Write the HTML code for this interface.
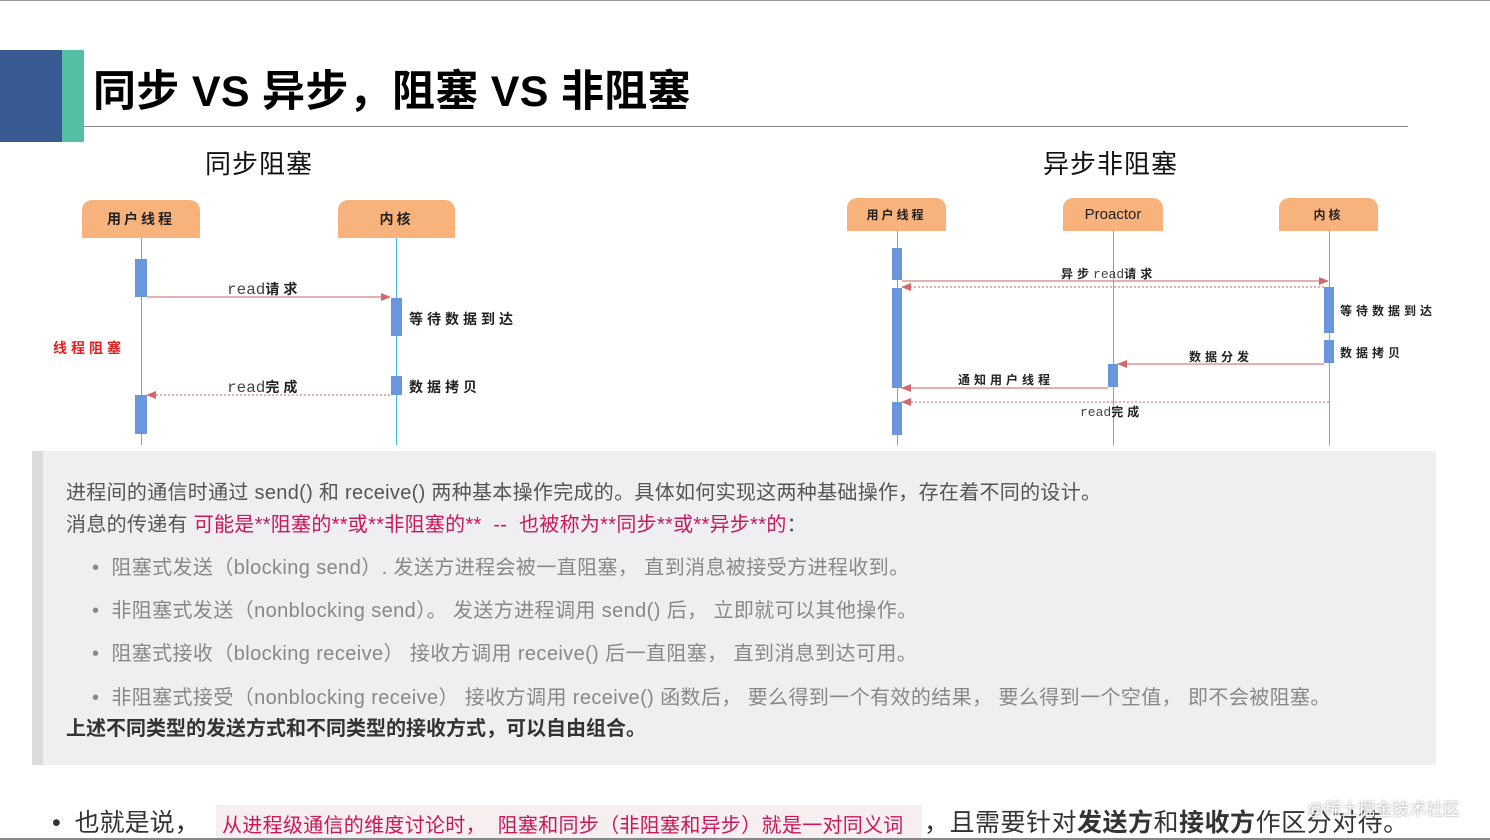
<!DOCTYPE html>
<html><head><meta charset="utf-8"><style>
body{margin:0;width:1490px;height:840px;background:#fff;position:relative;overflow:hidden;font-family:"Liberation Sans","Noto Sans CJK SC",sans-serif}
.a{position:absolute;white-space:nowrap}
.box{position:absolute;background:#f8b27c;border-radius:10px 10px 0 0;font-weight:bold;font-size:14px;display:flex;align-items:center;justify-content:center;color:#222;letter-spacing:3px}
.ll{position:absolute;width:1px;background:#3fbfe0}
.bar{position:absolute;background:#6a96dd}
.lb{position:absolute;white-space:nowrap;font-size:14px;font-weight:bold;color:#222;letter-spacing:4px}
.s{font-size:12px;letter-spacing:4px}
.m{font-family:"Liberation Mono",monospace;font-weight:normal;font-size:15px;color:#444;letter-spacing:0}
.t{font-size:20px;color:#555;letter-spacing:0.3px}
.g{font-size:20px;color:#888;letter-spacing:0.4px}
</style></head><body>
<div class="a" style="left:0;top:0;width:1490px;height:1px;background:#999"></div>
<div class="a" style="left:0;top:50px;width:62px;height:92px;background:#3a5a94"></div>
<div class="a" style="left:62px;top:50px;width:22px;height:92px;background:#55bfa6"></div>
<div class="a" style="left:84px;top:126px;width:1324px;height:1px;background:#888"></div>
<div class="a" style="left:93px;top:57px;font-size:43px;font-weight:bold;color:#000;letter-spacing:0.3px">同步 VS 异步，阻塞 VS 非阻塞</div>
<div class="a" style="left:205px;top:144px;font-size:26px;color:#111;letter-spacing:1px">同步阻塞</div>
<div class="a" style="left:1043px;top:144px;font-size:26px;color:#111;letter-spacing:1px">异步非阻塞</div>

<!-- sync diagram -->
<div class="box" style="left:82px;top:200px;width:118px;height:38px">用户线程</div>
<div class="box" style="left:338px;top:200px;width:117px;height:38px">内核</div>
<div class="ll" style="left:141px;top:238px;height:207px"></div>
<div class="ll" style="left:396px;top:238px;height:207px"></div>
<div class="bar" style="left:135px;top:259px;width:12px;height:38px"></div>
<div class="bar" style="left:135px;top:395px;width:12px;height:39px"></div>
<div class="bar" style="left:391px;top:298px;width:11px;height:38px"></div>
<div class="bar" style="left:391px;top:376px;width:11px;height:19px"></div>
<div class="lb" style="left:227px;top:279px"><span class="m" style="font-size:16px">read</span>请求</div>
<div class="lb" style="left:409px;top:309px">等待数据到达</div>
<div class="lb" style="left:409px;top:377px">数据拷贝</div>
<div class="lb" style="left:227px;top:377px"><span class="m" style="font-size:16px">read</span>完成</div>
<div class="lb" style="left:53px;top:338px;color:#e02020">线程阻塞</div>

<!-- async diagram -->
<div class="box" style="left:847px;top:198px;width:99px;height:33px;font-size:12px">用户线程</div>
<div class="box" style="left:1063px;top:198px;width:100px;height:33px;font-size:15px;font-weight:normal;letter-spacing:0">Proactor</div>
<div class="box" style="left:1279px;top:198px;width:99px;height:33px;font-size:12px">内核</div>
<div class="ll" style="left:897px;top:231px;height:214px"></div>
<div class="ll" style="left:1113px;top:231px;height:214px"></div>
<div class="ll" style="left:1329px;top:231px;height:214px"></div>
<div class="bar" style="left:892px;top:248px;width:10px;height:32px"></div>
<div class="bar" style="left:892px;top:288px;width:10px;height:100px"></div>
<div class="bar" style="left:892px;top:402px;width:10px;height:33px"></div>
<div class="bar" style="left:1324px;top:287px;width:10px;height:46px"></div>
<div class="bar" style="left:1324px;top:340px;width:10px;height:23px"></div>
<div class="bar" style="left:1108px;top:364px;width:10px;height:23px"></div>
<div class="lb s" style="left:1061px;top:265px">异步<span class="m" style="font-size:13px">read</span>请求</div>
<div class="lb s" style="left:1340px;top:302px">等待数据到达</div>
<div class="lb s" style="left:1340px;top:344px">数据拷贝</div>
<div class="lb s" style="left:1189px;top:348px">数据分发</div>
<div class="lb s" style="left:958px;top:371px">通知用户线程</div>
<div class="lb s" style="left:1080px;top:403px"><span class="m" style="font-size:13px">read</span>完成</div>

<svg class="a" style="left:0;top:0" width="1490" height="450">
<defs><marker id="ar" markerWidth="10" markerHeight="8" refX="9" refY="4" orient="auto" markerUnits="userSpaceOnUse"><path d="M0,0L10,4L0,8z" fill="#d06a6a"/></marker></defs>
<g stroke="#d88080" stroke-width="1.2" fill="none">
<line x1="147" y1="297" x2="390" y2="297" marker-end="url(#ar)"/>
<line x1="390" y1="395" x2="147" y2="395" stroke-dasharray="2,2" marker-end="url(#ar)"/>
<line x1="902" y1="281" x2="1328" y2="281" marker-end="url(#ar)"/>
<line x1="1324" y1="287" x2="902" y2="287" stroke-dasharray="2,2" marker-end="url(#ar)"/>
<line x1="1324" y1="364" x2="1118" y2="364" marker-end="url(#ar)"/>
<line x1="1108" y1="388" x2="902" y2="388" marker-end="url(#ar)"/>
<line x1="1329" y1="402" x2="902" y2="402" stroke-dasharray="2,2" marker-end="url(#ar)"/>
</g></svg>

<!-- gray box -->
<div class="a" style="left:32px;top:451px;width:1404px;height:314px;background:#efeff1"></div>
<div class="a" style="left:32px;top:451px;width:11px;height:314px;background:#dcdcde"></div>
<div class="a t" style="left:66px;top:476px">进程间的通信时通过 send() 和 receive() 两种基本操作完成的。具体如何实现这两种基础操作，存在着不同的设计。</div>
<div class="a t" style="left:66px;top:508px">消息的传递有 <span style="color:#c8185a">可能是**阻塞的**或**非阻塞的**&nbsp; --&nbsp; 也被称为**同步**或**异步**的</span>：</div>
<div class="a g" style="left:92px;top:551px">•&nbsp; 阻塞式发送（blocking send）. 发送方进程会被一直阻塞， 直到消息被接受方进程收到。</div>
<div class="a g" style="left:92px;top:594px">•&nbsp; 非阻塞式发送（nonblocking send）。 发送方进程调用 send() 后， 立即就可以其他操作。</div>
<div class="a g" style="left:92px;top:637px">•&nbsp; 阻塞式接收（blocking receive） 接收方调用 receive() 后一直阻塞， 直到消息到达可用。</div>
<div class="a g" style="left:92px;top:681px">•&nbsp; 非阻塞式接受（nonblocking receive） 接收方调用 receive() 函数后， 要么得到一个有效的结果， 要么得到一个空值， 即不会被阻塞。</div>
<div class="a" style="left:66px;top:712px;font-size:20px;font-weight:bold;color:#333">上述不同类型的发送方式和不同类型的接收方式，可以自由组合。</div>

<!-- bottom -->
<div class="a" style="left:52px;top:803px;font-size:25px;color:#333">•&nbsp; 也就是说，</div>
<div class="a" style="left:216px;top:805px;width:706px;height:33px;background:#f7eef0"></div>
<div class="a" style="left:222px;top:809px;font-size:20px;color:#c8185a;letter-spacing:0.3px">从进程级通信的维度讨论时，&nbsp; 阻塞和同步（非阻塞和异步）就是一对同义词</div>
<div class="a" style="left:924px;top:803px;font-size:25px;color:#333;letter-spacing:0.5px">，且需要针对<b>发送方</b>和<b>接收方</b>作区分对待。</div>
<div class="a" style="left:1307px;top:795px;font-size:17px;color:#fff;text-shadow:0 0 2px #888">@稀土掘金技术社区</div>
<div class="a" style="left:0;top:838px;width:1490px;height:2px;background:#888"></div>
</body></html>
